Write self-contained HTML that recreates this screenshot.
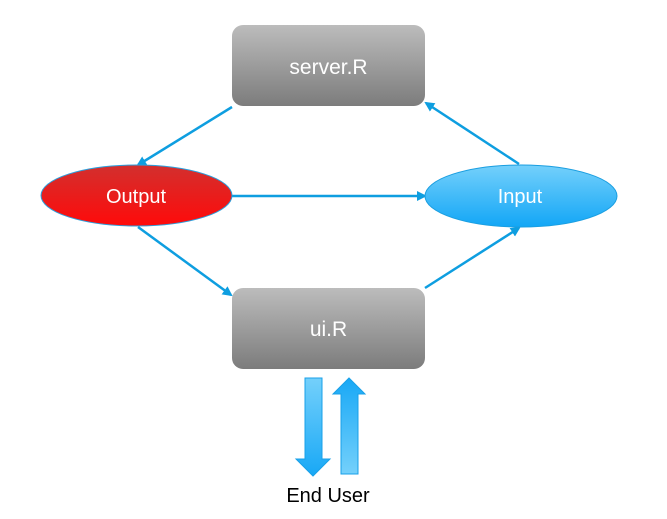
<!DOCTYPE html>
<html><head><style>html,body{margin:0;padding:0;background:#fff;width:667px;height:519px;overflow:hidden}</style></head>
<body>
<svg width="667" height="519" viewBox="0 0 667 519" xmlns="http://www.w3.org/2000/svg" font-family="'Liberation Sans', sans-serif">
<defs>
<linearGradient id="g" x1="0" y1="0" x2="0" y2="1"><stop offset="0" stop-color="#bcbcbc"/><stop offset="1" stop-color="#7c7c7c"/></linearGradient>
<linearGradient id="r" x1="0" y1="0" x2="0" y2="1"><stop offset="0" stop-color="#d2302e"/><stop offset="1" stop-color="#ff0a0a"/></linearGradient>
<linearGradient id="b" x1="0" y1="0" x2="0" y2="1"><stop offset="0" stop-color="#74d0fb"/><stop offset="1" stop-color="#12a6f6"/></linearGradient>
<linearGradient id="bd" x1="0" y1="0" x2="0" y2="1"><stop offset="0" stop-color="#74d0fb"/><stop offset="1" stop-color="#18a8f6"/></linearGradient>
<linearGradient id="bu" x1="0" y1="0" x2="0" y2="1"><stop offset="0" stop-color="#18a8f6"/><stop offset="1" stop-color="#74d0fb"/></linearGradient>
<marker id="a" markerWidth="10" markerHeight="10" refX="8" refY="5" orient="auto" markerUnits="userSpaceOnUse"><path d="M0,0 L10,5 L0,10 z" fill="#0e9ee0"/></marker>
</defs>
<rect x="232" y="25" width="193" height="81" rx="11" fill="url(#g)"/>
<text x="328.5" y="74" font-size="21" fill="#fff" text-anchor="middle">server.R</text>
<rect x="232" y="288" width="193" height="81" rx="11" fill="url(#g)"/>
<text x="328.5" y="336" font-size="21" fill="#fff" text-anchor="middle">ui.R</text>
<g stroke="#0e9ee0" stroke-width="2.5" marker-end="url(#a)">
<line x1="232" y1="107" x2="138" y2="165"/>
<line x1="232" y1="196" x2="425" y2="196"/>
<line x1="138" y1="227" x2="231" y2="295"/>
<line x1="425" y1="288" x2="519" y2="228"/>
<line x1="519" y1="164" x2="426" y2="103"/>
</g>
<ellipse cx="136.5" cy="195.5" rx="95.5" ry="30.5" fill="url(#r)" stroke="#2aa0dd" stroke-width="1"/>
<text x="136" y="203" font-size="20" fill="#fff" text-anchor="middle">Output</text>
<ellipse cx="521" cy="196" rx="96" ry="31" fill="url(#b)" stroke="#1a9ee0" stroke-width="1"/>
<text x="520" y="203" font-size="20" fill="#fff" text-anchor="middle">Input</text>
<path d="M305,378 H322 V459 H330 L313,476 L296,459 H305 Z" fill="url(#bd)" stroke="#18a0e8" stroke-width="1"/>
<path d="M341,474 H358 V394 H365 L349,378 L333,394 H341 Z" fill="url(#bu)" stroke="#18a0e8" stroke-width="1"/>
<text x="328" y="502" font-size="20" fill="#000" text-anchor="middle">End User</text>
</svg>
</body></html>
